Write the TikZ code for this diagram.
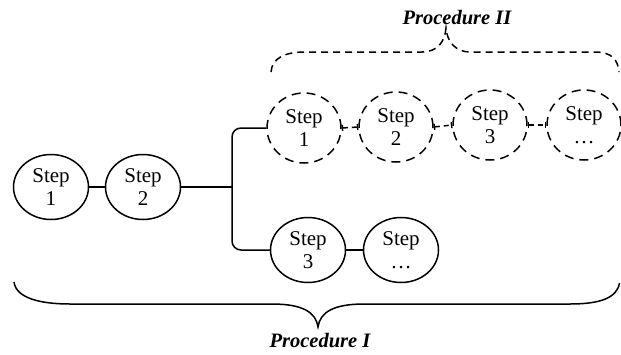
\documentclass[tikz,border=0pt]{standalone}
\usepackage{fontspec}
\setmainfont{Liberation Serif}
\usetikzlibrary{shapes.geometric,arrows.meta}
\begin{document}
\begin{tikzpicture}[x=1pt,y=-1pt,
  stepsolid/.style={ellipse,draw,line width=1.5pt,minimum width=75pt,minimum height=65pt,inner sep=0pt,align=center,font=\fontsize{21}{23}\selectfont},
  stepdashed/.style={stepsolid,dash pattern=on 9pt off 6pt,minimum width=74pt,minimum height=70pt},
  link/.style={line width=1.5pt},
  dlink/.style={line width=1.5pt,dash pattern=on 5pt off 4pt,{Bar[width=6pt,line width=1.4pt]}-{Bar[width=6pt,line width=1.4pt]}},
  brace/.style={line width=1.5pt},
  proclabel/.style={font=\fontsize{20.5}{24}\selectfont\bfseries\itshape}]
\useasboundingbox (0,0) rectangle (621,354);

% main sequence
\node[stepsolid] (s1) at (51,187) {Step\\1};
\node[stepsolid] (s2) at (143,187) {Step\\2};
\node[stepsolid] (s3) at (308,250) {Step\\3};
\node[stepsolid] (s4) at (401,250) {Step\\\dots};

% alternative sequence
\node[stepdashed] (d1) at (304,128) {Step\\1};
\node[stepdashed] (d2) at (396,127) {Step\\2};
\node[stepdashed] (d3) at (490,125) {Step\\3};
\node[stepdashed] (d4) at (584,125) {Step\\\dots};

% branching point
\coordinate (jtop) at (232,128);
\coordinate (jbot) at (232,250);
\coordinate (jmid) at (232,187);

\draw[link] (s1) -- (s2);
\draw[link] (s2.east) -- (jmid);
\draw[link,rounded corners=9pt] (d1.west) -- (jtop) -- (jbot) -- (s3.west);
\draw[link] (s3) -- (s4);

\draw[dlink] (d1.east) -- (d2.west);
\draw[dlink] (d2.east) -- (d3.west);
\draw[dlink] (d3.east) -- (d4.west);

% brace for procedure I
\coordinate (bl) at (14,282);
\coordinate (bt) at (318,327);
\coordinate (br) at (619.5,283);
\draw[brace] (bl) .. controls (16,298) and (40,304) .. (70,304) -- (272,304)
  .. controls (302,304) and (316,312) .. (bt)
  .. controls (320,312) and (334,304) .. (364,304) -- (570,304)
  .. controls (600,304) and (617,298) .. (br);
\node[proclabel] (p1) at (320,341) {Procedure I};

% brace for procedure II
\coordinate (cl) at (271,72);
\coordinate (ct) at (446,28);
\coordinate (cr) at (619,72);
\draw[brace,dash pattern=on 7pt off 5pt] (cl) .. controls (272,58) and (285,52) .. (305,52) -- (422,52)
  .. controls (437,52) and (445,42) .. (ct)
  .. controls (447,42) and (456,52) .. (470,52) -- (595,52)
  .. controls (612,52) and (618,60) .. (cr);
\node[proclabel] (p2) at (457,18) {Procedure II};
\end{tikzpicture}
\end{document}
